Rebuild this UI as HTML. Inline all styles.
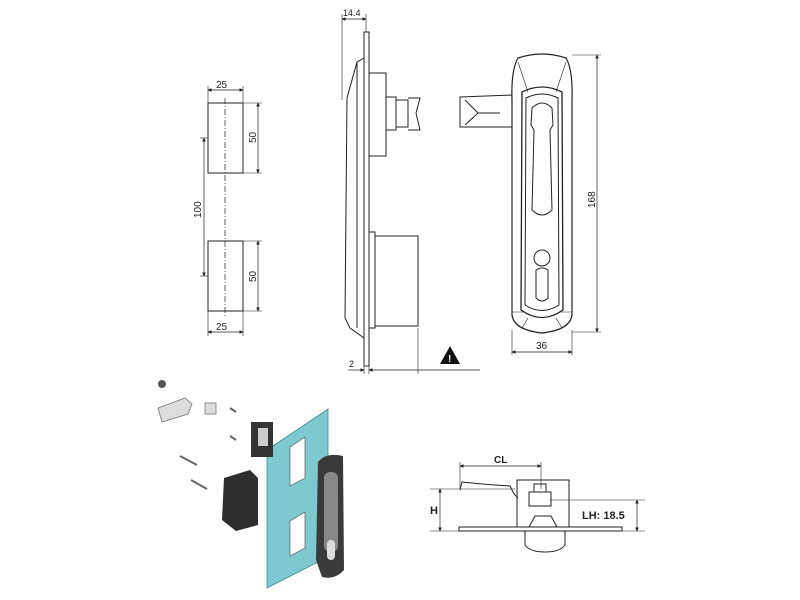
<!DOCTYPE html>
<html><head><style>body{margin:0;background:#fff}svg{display:block}text{font-family:"Liberation Sans",sans-serif;fill:#222}</style></head>
<body>
<svg width="800" height="600" viewBox="0 0 800 600" xmlns="http://www.w3.org/2000/svg">
<defs><marker id="a" markerWidth="6" markerHeight="6" refX="5" refY="3" orient="auto-start-reverse"><path d="M0,0.5 L6,3 L0,5.5z" fill="#222"/></marker></defs>
<g fill="none" stroke="#222" stroke-width="1">
<rect x="208" y="103" width="35" height="70"/>
<rect x="208" y="241" width="35" height="70"/>
<line x1="225" y1="98" x2="225" y2="316" stroke-dasharray="6,2,1,2" stroke-width="0.7"/>
<line x1="208" y1="86" x2="208" y2="103" stroke-width="0.6"/><line x1="243" y1="86" x2="243" y2="103" stroke-width="0.6"/>
<line x1="208" y1="90" x2="243" y2="90" stroke-width="0.7" marker-start="url(#a)" marker-end="url(#a)"/>
<line x1="208" y1="311" x2="208" y2="336" stroke-width="0.6"/><line x1="243" y1="311" x2="243" y2="336" stroke-width="0.6"/>
<line x1="208" y1="332" x2="243" y2="332" stroke-width="0.7" marker-start="url(#a)" marker-end="url(#a)"/>
<line x1="243" y1="103" x2="262" y2="103" stroke-width="0.6"/><line x1="243" y1="173" x2="262" y2="173" stroke-width="0.6"/>
<line x1="258" y1="103" x2="258" y2="173" stroke-width="0.7" marker-start="url(#a)" marker-end="url(#a)"/>
<line x1="243" y1="241" x2="262" y2="241" stroke-width="0.6"/><line x1="243" y1="311" x2="262" y2="311" stroke-width="0.6"/>
<line x1="258" y1="241" x2="258" y2="311" stroke-width="0.7" marker-start="url(#a)" marker-end="url(#a)"/>
<line x1="200" y1="138" x2="208" y2="138" stroke-width="0.6"/><line x1="200" y1="276" x2="208" y2="276" stroke-width="0.6"/>
<line x1="204" y1="138" x2="204" y2="276" stroke-width="0.7" marker-start="url(#a)" marker-end="url(#a)"/>
<rect x="364" y="32" width="5" height="334"/>
<path d="M364,58 L357,62 L347,98 L345,318 L350,328 L364,338"/>
<path d="M357,62 L357,328"/>
<rect x="369" y="73" width="17" height="83"/>
<rect x="386" y="97" width="10" height="33"/>
<rect x="396" y="100" width="12" height="27"/>
<path d="M408,98 L420,98 L416,113 L420,130 L408,130"/>
<rect x="369" y="232" width="6" height="96"/>
<rect x="375" y="236" width="43" height="90"/>
<line x1="342" y1="14" x2="342" y2="100" stroke-width="0.6"/><line x1="366" y1="14" x2="366" y2="32" stroke-width="0.6"/>
<line x1="342" y1="19" x2="366" y2="19" stroke-width="0.7" marker-start="url(#a)" marker-end="url(#a)"/>
<line x1="418" y1="328" x2="418" y2="374" stroke-width="0.6"/><line x1="364" y1="366" x2="364" y2="374" stroke-width="0.6"/><line x1="369" y1="366" x2="369" y2="374" stroke-width="0.6"/>
<line x1="348" y1="370" x2="364" y2="370" stroke-width="0.7" marker-end="url(#a)"/>
<line x1="369" y1="370" x2="480" y2="370" stroke-width="0.7" marker-start="url(#a)"/>
<path d="M460,97 L512,95 L512,127 L460,127 Z"/>
<path d="M465,100 L478,113 L465,125 M478,113 L500,113"/>
<path d="M518,58 Q542,50 566,58 Q573,70 572,100 L572,315 Q570,330 542,333 Q514,330 512,315 L512,100 Q511,70 518,58Z" stroke-width="1.2"/>
<path d="M518,62 L528,92 M566,62 L556,92 M512,312 L525,312 M572,312 L559,312 M522,328 L528,318 M562,328 L556,318" stroke-width="0.6"/>
<path d="M522,92 Q542,82 562,92 L563,310 Q542,325 521,310Z" stroke-width="1.3"/>
<path d="M526,98 Q542,90 558,98 L559,305 Q542,316 525,305Z"/>
<path d="M532,108 Q542,98 552,108 L553,125 L550,130 L552,210 Q542,220 532,210 L534,130 L531,125Z"/>
<circle cx="542" cy="258" r="8"/>
<path d="M536,270 Q542,266 548,270 L548,298 Q542,304 536,298Z"/>
<line x1="572" y1="55" x2="601" y2="55" stroke-width="0.6"/><line x1="572" y1="332" x2="601" y2="332" stroke-width="0.6"/>
<line x1="597" y1="55" x2="597" y2="332" stroke-width="0.7" marker-start="url(#a)" marker-end="url(#a)"/>
<line x1="512" y1="330" x2="512" y2="355" stroke-width="0.6"/><line x1="572" y1="330" x2="572" y2="355" stroke-width="0.6"/>
<line x1="512" y1="352" x2="572" y2="352" stroke-width="0.7" marker-start="url(#a)" marker-end="url(#a)"/>
<rect x="459" y="527" width="163" height="4"/>
<path d="M460,490 L462,482 Q480,484 510,486 L514,494 L518,498"/>
<rect x="517" y="480" width="52" height="47"/>
<rect x="529" y="492" width="22" height="14"/>
<rect x="534" y="484" width="12" height="8"/>
<path d="M529,527 L535,516 L551,516 L557,527"/>
<path d="M525,531 L525,545 Q530,552 545,552 Q560,552 565,545 L565,531"/>
<line x1="430" y1="489" x2="515" y2="489" stroke-width="0.6"/>
<line x1="440" y1="489" x2="440" y2="531" stroke-width="0.7" marker-start="url(#a)" marker-end="url(#a)"/>
<line x1="430" y1="531" x2="645" y2="531" stroke-width="0.6"/>
<line x1="550" y1="500" x2="645" y2="500" stroke-width="0.6"/>
<line x1="637" y1="500" x2="637" y2="531" stroke-width="0.7" marker-start="url(#a)" marker-end="url(#a)"/>
<line x1="460" y1="462" x2="460" y2="489" stroke-width="0.6"/><line x1="541" y1="462" x2="541" y2="489" stroke-width="0.6"/>
<line x1="460" y1="466" x2="541" y2="466" stroke-width="0.7" marker-start="url(#a)" marker-end="url(#a)"/>
</g>
<path d="M450,346 L460,364 L440,364Z" fill="#111"/><text x="448" y="362" font-size="10" style="fill:#fff" font-weight="bold">!</text>
<text x="216" y="88" font-size="10">25</text>
<text x="216" y="330" font-size="10">25</text>
<text font-size="10" transform="translate(256,143) rotate(-90)">50</text>
<text font-size="10" transform="translate(256,282) rotate(-90)">50</text>
<text font-size="10" transform="translate(201,218) rotate(-90)">100</text>
<text x="343" y="16" font-size="9">14.4</text>
<text x="349" y="367" font-size="9">2</text>
<text font-size="10" transform="translate(595,208) rotate(-90)">168</text>
<text x="536" y="349" font-size="10">36</text>
<text x="494" y="463" font-size="10" font-weight="bold">CL</text>
<text x="430" y="514" font-size="11" font-weight="bold">H</text>
<text x="582" y="519" font-size="11" font-weight="bold">LH: 18.5</text>
<polygon points="267,450 328,409 328,557 267,588" fill="#7ec8d0" stroke="#3a8a90" stroke-width="0.8"/>
<polygon points="290,447 305,437 305,478 290,486" fill="#fff" stroke="#444" stroke-width="0.6"/>
<polygon points="290,521 305,512 305,548 290,556" fill="#fff" stroke="#444" stroke-width="0.6"/>
<rect x="251" y="422" width="22" height="35" fill="#333"/><rect x="258" y="428" width="10" height="18" fill="#ccc"/>
<path d="M224,478 L250,470 L258,478 L258,525 L236,531 L222,520Z" fill="#2e2e2e"/>
<path d="M318,462 Q326,452 343,456 L344,570 Q335,580 322,577 L316,560Z" fill="#3a3a3a"/>
<rect x="324" y="472" width="14" height="80" rx="6" fill="#888"/>
<rect x="327" y="540" width="8" height="20" rx="4" fill="#ddd"/>
<path d="M158,408 L185,398 L192,404 L188,414 L162,422Z" fill="#ddd" stroke="#777" stroke-width="0.8"/>
<circle cx="162" cy="384" r="4" fill="#555"/>
<rect x="205" y="403" width="11" height="11" fill="#ddd" stroke="#777" stroke-width="0.8"/>
<g stroke="#666" stroke-width="2"><line x1="230" y1="408" x2="236" y2="412"/><line x1="230" y1="436" x2="236" y2="440"/><line x1="180" y1="456" x2="197" y2="465"/><line x1="191" y1="480" x2="207" y2="489"/></g>
</svg>
</body></html>
